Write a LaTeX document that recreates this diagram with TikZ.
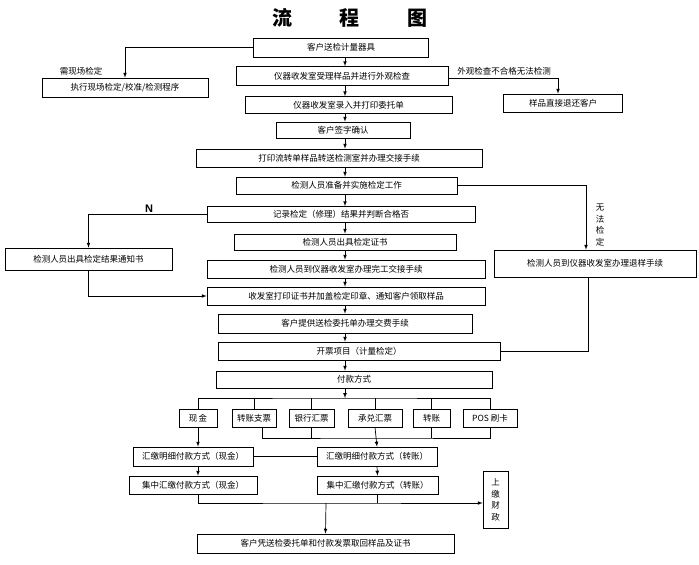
\documentclass[tikz,border=0pt]{standalone}
\usepackage{fontspec}
\newfontfamily\cjk{Noto Sans CJK SC}
\setsansfont{Liberation Sans}
\usetikzlibrary{arrows}

\begin{document}
\begin{tikzpicture}[x=1pt,y=-1pt,line width=.7pt]
\tikzstyle{every node}=[font=\cjk\fontsize{8.5}{11}\selectfont, inner sep=1pt]
\tikzstyle{box}=[draw, minimum height=18pt]
\tikzstyle{arr}=[-latex]
\useasboundingbox (0,0) rectangle (699,565);
\draw (350,18) node (title) [font=\cjk\bfseries\fontsize{20}{22}\selectfont] {流\hspace{2.4em}程\hspace{2.4em}图};
\coordinate (spine) at (345,0);
\coordinate (cashx) at (198,0);
% main column
\draw (341,47.5) node (b1) [box,minimum width=175pt,minimum height=19pt] {客户送检计量器具};
\draw (342,76) node (b2) [box,minimum width=212pt,minimum height=19pt] {仪器收发室受理样品并进行外观检查};
\draw (348.5,105) node (b3) [box,minimum width=207pt,minimum height=17pt] {仪器收发室录入并打印委托单};
\draw (343,130) node (b4) [box,minimum width=134pt,minimum height=16pt] {客户签字确认};
\draw (339,158) node (b5) [box,minimum width=286pt] {打印流转单样品转送检测室并办理交接手续};
\draw (346.5,185.5) node (b6) [box,minimum width=221pt,minimum height=17pt] {检测人员准备并实施检定工作};
\draw (341,214.5) node (b7) [box,minimum width=268pt,minimum height=16pt] {记录检定（修理）结果并判断合格否};
\draw (345,242) node (b8) [box,minimum width=222pt,minimum height=16pt] {检测人员出具检定证书};
\draw (346,269) node (b9) [box,minimum width=278pt] {检测人员到仪器收发室办理完工交接手续};
\draw (346,296) node (b10) [box,minimum width=278pt] {收发室打印证书并加盖检定印章、通知客户领取样品};
\draw (345,323.5) node (b11) [box,minimum width=254pt,minimum height=19pt] {客户提供送检委托单办理交费手续};
\draw (359,351) node (b12) [box,minimum width=282pt] {开票项目（计量检定）};
\draw (354,379.5) node (b13) [box,minimum width=276pt,minimum height=17pt] {付款方式};
% side boxes
\draw (125,87.5) node (lb1) [box,minimum width=166pt,minimum height=19pt] {执行现场检定/校准/检测程序};
\draw (563,103) node (rb1) [box,minimum width=119pt] {样品直接退还客户};
\draw (88.5,259) node (lb2) [box,minimum width=167pt,minimum height=22pt] {检测人员出具检定结果通知书};
\draw (595,263.5) node (rb2) [box,minimum width=202pt,minimum height=27pt] {检测人员到仪器收发室办理退样手续};
% payment
\draw (198,418) node (p1) [box,minimum width=38pt] {现\,金};
\draw (254,418) node (p2) [box,minimum width=44pt] {转账支票};
\draw (311.5,418) node (p3) [box,minimum width=45pt] {银行汇票};
\draw (375,418) node (p4) [box,minimum width=54pt] {承兑汇票};
\draw (431.5,418) node (p5) [box,minimum width=37pt] {转账};
\draw (490,418) node (p6) [box,minimum width=54pt] {POS 刷卡};
\draw (193,456.5) node (hz1) [box,minimum width=120pt,minimum height=19pt] {汇缴明细付款方式（现金）};
\draw (377,456.5) node (hz2) [box,minimum width=120pt,minimum height=19pt] {汇缴明细付款方式（转账）};
\draw (193,485) node (jz1) [box,minimum width=128pt] {集中汇缴付款方式（现金）};
\draw (377.5,485) node (jz2) [box,minimum width=121pt] {集中汇缴付款方式（转账）};
\draw (495.5,500) node (sj) [box,minimum width=25pt,minimum height=57pt,align=center,font=\cjk\fontsize{8.5}{11.5}\selectfont] {上\\缴\\财\\政};
\draw (325.5,543.5) node (fin) [box,minimum width=257pt,minimum height=19pt] {客户凭送检委托单和付款发票取回样品及证书};
% labels
\draw (81,71) node (l1) {需现场检定};
\draw (504,71) node (l2) {外观检查不合格无法检测};
\draw (149,209) node (l3) [font=\sffamily\bfseries\fontsize{11}{12}\selectfont] {N};
\draw (600,225) node (l4) [align=center,font=\cjk\fontsize{8.5}{11.5}\selectfont] {无\\法\\检\\定};
% connectors
\foreach \a/\b in {b1/b2,b2/b3,b3/b4,b4/b5,b5/b6,b6/b7,b7/b8,b8/b9,b9/b10,b10/b11,b11/b12,b12/b13}
  \draw[arr] (\a.south -| spine) -- (\b.north -| spine);
\draw[arr] (b1.west) -| (lb1.north);
\draw[arr] ([yshift=-2pt]b2.east) -| ([xshift=-5pt]rb1.north);
\draw[arr] (b6.east) -| ([xshift=-9pt]rb2.north);
\draw[arr] (b7.west) -| (lb2.north);
\draw[arr] (lb2.south) |- (b10.west);
\draw ([xshift=-7pt]rb2.south) |- (b12.east);
\coordinate (bus1) at (345,398);
\draw[arr] (b13.south -| spine) -- (bus1);
\draw (p1.north) |- (bus1) -| (p6.north);
\foreach \p in {p2,p3,p4,p5}
  \draw (\p.north) -- (\p.north |- bus1);
\coordinate (bus2) at (377,438);
\draw ([xshift=8pt]p2.south) |- (bus2) -| (p6.south);
\foreach \p in {p3,p5}
  \draw (\p.south) -- (\p.south |- bus2);
\draw[arr] (p4.south) -- (hz2.north);
\draw[arr] (p1.south) -- (p1.south |- hz1.north);
\draw (hz1.east) -- (hz2.west);
\draw[arr] (hz1.south -| cashx) -- (jz1.north -| cashx);
\draw[arr] (hz2.south) -- (jz2.north);
\coordinate (bus3) at (326,503);
\draw[arr] (jz1.south -| cashx) |- (bus3) -- (sj.west |- bus3);
\draw (jz2.south) -- (jz2.south |- bus3);
\draw[arr] (bus3) -- (fin.north);
\end{tikzpicture}
\end{document}
